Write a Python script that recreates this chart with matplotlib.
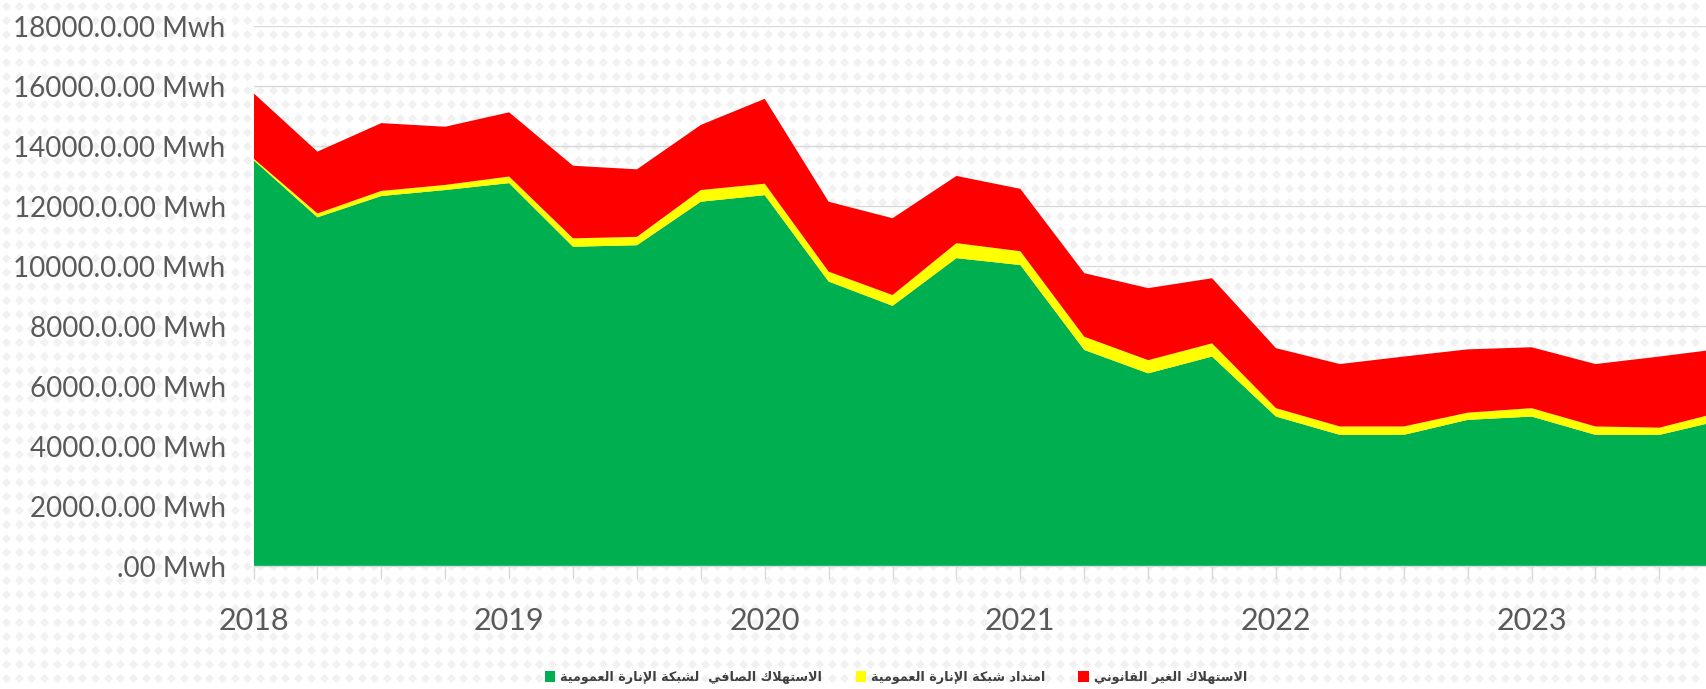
import numpy as np
import matplotlib
matplotlib.use("Agg")
import matplotlib.pyplot as plt
from matplotlib.patches import Patch

# Quarterly public lighting consumption (MWh), Q1 2018 .. Q4 2023
quarters = ["2018Q1", "2018Q2", "2018Q3", "2018Q4", "2019Q1", "2019Q2", "2019Q3", "2019Q4",
            "2020Q1", "2020Q2", "2020Q3", "2020Q4", "2021Q1", "2021Q2", "2021Q3", "2021Q4",
            "2022Q1", "2022Q2", "2022Q3", "2022Q4", "2023Q1", "2023Q2", "2023Q3", "2023Q4"]
net_use = [13530, 11620, 12330, 12530, 12760, 10640, 10690, 12140,
           12360, 9480, 8670, 10260, 10030, 7200, 6420, 6980,
           4980, 4370, 4370, 4870, 4980, 4370, 4370, 4870]
extension = [50, 130, 170, 170, 220, 280, 280, 390,
             380, 330, 360, 500, 460, 440, 440, 440,
             280, 280, 280, 240, 280, 280, 240, 280]
illegal = [2180, 2060, 2260, 1940, 2140, 2420, 2250, 2170,
           2830, 2330, 2560, 2240, 2080, 2120, 2400, 2170,
           2000, 2080, 2330, 2110, 2030, 2080, 2370, 2100]

years = ["2018", "2019", "2020", "2021", "2022", "2023"]
y_ticks = [0, 2000, 4000, 6000, 8000, 10000, 12000, 14000, 16000, 18000]
y_labels = [".00 Mwh"] + ["%d.0.00 Mwh" % v for v in y_ticks[1:]]

legend_labels = ["الاستهلاك الصافي  لشبكة الإنارة العمومية",
                 "امتداد شبكة الإنارة العمومية",
                 "الاستهلاك الغير القانوني"]
colors = ["#00b050", "#ffff00", "#ff0000"]

# minimal Arabic shaping: contextual forms + lam-alef, then visual (reversed) order
FORMS = {
    'ا': (0xFE8D, 0xFE8E, None, None), 'إ': (0xFE87, 0xFE88, None, None),
    'ب': (0xFE8F, 0xFE90, 0xFE91, 0xFE92), 'ة': (0xFE93, 0xFE94, None, None),
    'ت': (0xFE95, 0xFE96, 0xFE97, 0xFE98), 'د': (0xFEA9, 0xFEAA, None, None),
    'ر': (0xFEAD, 0xFEAE, None, None), 'س': (0xFEB1, 0xFEB2, 0xFEB3, 0xFEB4),
    'ش': (0xFEB5, 0xFEB6, 0xFEB7, 0xFEB8), 'ص': (0xFEB9, 0xFEBA, 0xFEBB, 0xFEBC),
    'ع': (0xFEC9, 0xFECA, 0xFECB, 0xFECC), 'غ': (0xFECD, 0xFECE, 0xFECF, 0xFED0),
    'ف': (0xFED1, 0xFED2, 0xFED3, 0xFED4), 'ق': (0xFED5, 0xFED6, 0xFED7, 0xFED8),
    'ك': (0xFED9, 0xFEDA, 0xFEDB, 0xFEDC), 'ل': (0xFEDD, 0xFEDE, 0xFEDF, 0xFEE0),
    'م': (0xFEE1, 0xFEE2, 0xFEE3, 0xFEE4), 'ن': (0xFEE5, 0xFEE6, 0xFEE7, 0xFEE8),
    'ه': (0xFEE9, 0xFEEA, 0xFEEB, 0xFEEC), 'و': (0xFEED, 0xFEEE, None, None),
    'ي': (0xFEF1, 0xFEF2, 0xFEF3, 0xFEF4),
}
LAM_ALEF = {'ا': (0xFEFB, 0xFEFC), 'إ': (0xFEF9, 0xFEFA)}


def joins_next(c):
    return c in FORMS and FORMS[c][2] is not None


def shape_ar(s):
    out = []
    i = 0
    while i < len(s):
        c = s[i]
        if c not in FORMS:
            out.append(c)
            i += 1
            continue
        link_prev = i > 0 and joins_next(s[i - 1])
        if c == 'ل' and i + 1 < len(s) and s[i + 1] in LAM_ALEF:
            out.append(chr(LAM_ALEF[s[i + 1]][1 if link_prev else 0]))
            i += 2
            continue
        link_next = joins_next(c) and i + 1 < len(s) and s[i + 1] in FORMS
        iso, fin, ini, med = FORMS[c]
        if link_prev and link_next:
            f = med
        elif link_prev:
            f = fin
        elif link_next:
            f = ini
        else:
            f = iso
        out.append(chr(f))
        i += 1
    return "".join(out)[::-1]


W, H = 1706, 689
fig = plt.figure(figsize=(17.061, 6.891), dpi=100)
fig.patch.set_facecolor("white")

# light diamond texture behind everything
bg = fig.add_axes([0, 0, 1, 1], zorder=-1)
bg.set_xlim(0, W)
bg.set_ylim(H, 0)
bg.axis("off")
gx, gy = np.meshgrid(np.arange(6, W, 12.7), np.arange(6, H, 14))
bg.scatter(gx.ravel(), gy.ravel(), marker="D", s=22, color="#f1f1f1", linewidths=0)

ax = fig.add_axes([253.5 / W, 1 - 566 / H, 1 - 253.5 / W, (566 - 26) / H])
ax.set_facecolor("none")

x = np.arange(len(quarters))
ax.stackplot(x, net_use, extension, illegal, colors=colors, linewidth=0, zorder=2)

ax.set_yticks(y_ticks)
ax.set_yticklabels(y_labels, fontsize=20, color="#595959", family="Lato")
ax.tick_params(axis="y", length=0, pad=20)
ax.grid(axis="y", color="#d9d9d9", linewidth=1, zorder=0)
ax.set_axisbelow(True)

ax.set_xticks(x)
ax.set_xticklabels([years[i // 4] if i % 4 == 0 else "" for i in x],
                   fontsize=22, color="#595959", family="Lato")
ax.tick_params(axis="x", length=9.5, color="#d9d9d9", width=1, direction="out", pad=20)

# the last quarter runs past the right edge
ax.set_xlim(0, (W - 253.5) / 63.9)
ax.set_ylim(0, 18000)

for side in ["left", "right", "top"]:
    ax.spines[side].set_visible(False)
ax.spines["bottom"].set_color("#d9d9d9")
ax.spines["bottom"].set_linewidth(1)

handles = [Patch(facecolor=c, edgecolor="none") for c in colors]
fig.legend(handles, [shape_ar(t) for t in legend_labels], loc="center",
           bbox_to_anchor=(896 / W, 1 - 677 / H), ncol=3, frameon=False,
           prop={"family": "DejaVu Sans", "size": 9.2, "weight": "bold"}, labelcolor="#404040",
           handlelength=0.8, handleheight=0.95, handletextpad=0.4, columnspacing=2.6)

fig.savefig("out.png", dpi=100, facecolor="white")
